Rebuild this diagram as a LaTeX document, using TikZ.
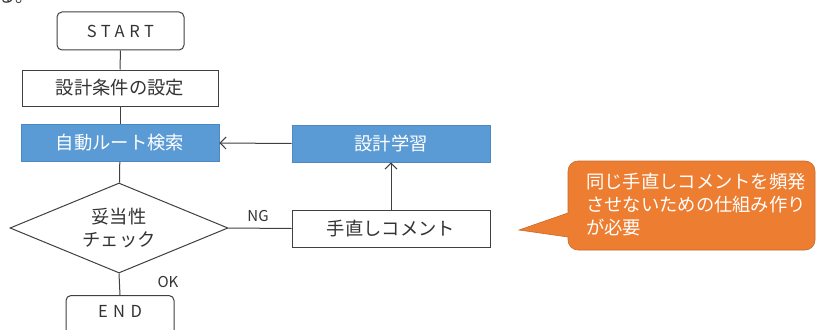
\documentclass[tikz,border=0pt]{standalone}
\usepackage{fontspec}
\setmainfont{Noto Sans CJK JP}
\usetikzlibrary{shapes.geometric,arrows.meta}
\definecolor{lc}{HTML}{404040}
\definecolor{bluefill}{HTML}{5B9BD5}
\definecolor{blueedge}{HTML}{4A89C4}
\definecolor{orfill}{HTML}{ED7D31}
\definecolor{oredge}{HTML}{C8692A}
\tikzset{
  jp/.style={font=\fontsize{18.3}{23}\selectfont, text=black!80},
  termbox/.style={draw=lc, line width=1.0pt, rounded corners=5pt, fill=white, inner sep=0pt},
  procbox/.style={draw=lc, line width=1.0pt, fill=white, inner sep=0pt, minimum width=196pt, minimum height=36pt, jp},
  bluebox/.style={draw=blueedge, line width=0.8pt, fill=bluefill, inner sep=0pt, minimum width=198pt, minimum height=37pt, jp, text=white},
  conn/.style={draw=lc, line width=1.0pt},
  arr/.style={conn, -{Straight Barb[length=6pt,width=12pt,line width=1.0pt]}},
  lbl/.style={font=\fontsize{15}{17}\selectfont, text=black!80, inner sep=0pt}
}
\begin{document}
\begin{tikzpicture}[x=1pt,y=-1pt]
\useasboundingbox[fill=white] (0,0) rectangle (821,329);
% partial text at top-left (cut off by page edge, as in the reference)
\node[jp, anchor=base west, inner sep=0pt] (topcut) at (-3,3) {る。};
% nodes
\node[termbox, minimum width=127pt, minimum height=38pt, jp, font=\fontsize{16.5}{18}\selectfont\addfontfeatures{LetterSpace=28}] (start) at (120.5,31) {START};
\node[procbox] (cond) at (120,88) {設計条件の設定};
\node[bluebox] (route) at (120,143) {自動ルート検索};
\node[draw=lc, line width=1.0pt, diamond, aspect=2.42, minimum width=218pt, minimum height=90pt, inner sep=0pt, jp, align=center] (check) at (119,228) {妥当性\\チェック};
\node[termbox, minimum width=108pt, minimum height=44pt, anchor=north] (end) at (120,295) {};
\node[jp, font=\fontsize{16.5}{18}\selectfont, inner sep=0pt] (endtxt) at (120,311.5) {E\,\,N\,\,D};
\node[bluebox] (learn) at (391,143.5) {設計学習};
\node[procbox, minimum width=198pt, minimum height=37pt] (fix) at (391,228.5) {手直しコメント};
% connectors
\draw[conn] (start) -- (cond);
\draw[conn] (cond) -- (route);
\draw[conn] (route) -- (check);
\draw[conn] (check.south) -- (end.north);
\draw[conn] (check.east) -- (fix.west);
\draw[arr] (learn.west) -- (route.east);
\draw[arr] (fix.north) -- (learn.south);
% labels
\node[lbl] (ng) at (258,216) {NG};
\node[lbl] (ok) at (168,282) {OK};
% callout
\path[fill=orfill, draw=oredge, line width=0.6pt]
  (578,161) -- (805,161) arc[start angle=-90, end angle=0, radius=10]
  -- (815,240) arc[start angle=0, end angle=90, radius=10]
  -- (578,250) arc[start angle=90, end angle=180, radius=10]
  -- (568,237) -- (519,230) -- (568,213)
  -- (568,171) arc[start angle=180, end angle=270, radius=10] -- cycle;
\node[jp, text=white, align=left, anchor=west, inner sep=0pt] (note) at (586,205)
  {同じ手直しコメントを頻発\\させないための仕組み作り\\が必要};
\end{tikzpicture}
\end{document}
